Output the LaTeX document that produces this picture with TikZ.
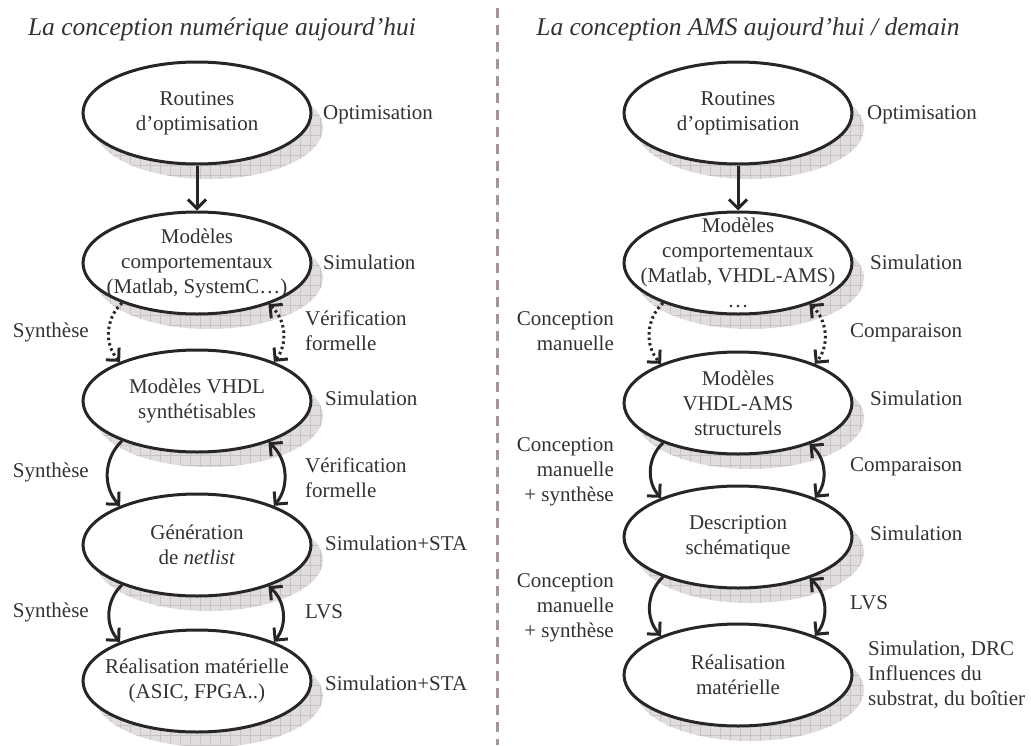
\documentclass[tikz,border=0pt]{standalone}
\usepackage{fontspec}
\setmainfont{Liberation Serif}
\usetikzlibrary{shapes.geometric,arrows.meta,shadows,patterns.meta}
\definecolor{ink}{RGB}{38,38,38}
\definecolor{txtc}{RGB}{50,50,50}
\definecolor{shfill}{RGB}{226,221,221}
\definecolor{shgrid}{RGB}{200,194,194}
\definecolor{divc}{RGB}{165,150,150}
\begin{document}
\begin{tikzpicture}[x=1pt,y=-1pt,
  font=\fontsize{21}{25}\selectfont, text=txtc,
  ell/.style={ellipse, draw=ink, line width=3pt, fill=white,
    minimum width=228pt, minimum height=102pt, inner sep=0pt,
    general shadow={shadow xshift=12pt, shadow yshift=-15pt, fill=shfill},
    general shadow={shadow xshift=12pt, shadow yshift=-15pt,
      pattern={Hatch[angle=0,distance=10pt,line width=0.5pt]}, pattern color=shgrid}},
  inlbl/.style={align=center, inner sep=0pt},
  lblr/.style={anchor=west, align=left, inner sep=0pt},
  lbll/.style={anchor=east, align=right, inner sep=0pt},
  titlec/.style={font=\fontsize{25.5}{30}\selectfont\itshape, inner sep=0pt},
  arr/.style={draw=ink, line width=3pt, -{Straight Barb[length=9pt,width=18pt]}},
  darr/.style={draw=ink, line width=3pt, {Straight Barb[length=9pt,width=18pt]}-{Straight Barb[length=9pt,width=18pt]}},
  dotl/.style={dash pattern=on 2.5pt off 3pt}
]
\useasboundingbox (0,0) rectangle (1031,745);

% titles and divider
\node[titlec] (t1) at (222,29) {La conception numérique aujourd’hui};
\node[titlec] (t2) at (748,29) {La conception AMS aujourd’hui / demain};
\coordinate (dtop) at (497,8);
\coordinate (dbot) at (497,745);
\draw[divc, line width=3pt, dash pattern=on 10pt off 7pt] (dtop) -- (dbot);

% left column
\node[ell, label={[inlbl]center:{Routines\\d’optimisation}}] (l1) at (197,113) {};
\node[ell, label={[inlbl]center:{Modèles\\comportementaux\\(Matlab, SystemC…)}}] (l2) at (197,263) {};
\node[ell, label={[inlbl]center:{Modèles VHDL\\synthétisables}}] (l3) at (197,401) {};
\node[ell, label={[inlbl]center:{Génération\\de \textit{netlist}}}] (l4) at (197,545) {};
\node[ell, label={[inlbl]center:{Réalisation matérielle\\(ASIC, FPGA..)}}] (l5) at (197,681) {};

% right column
\node[ell, label={[inlbl]center:{Routines\\d’optimisation}}] (r1) at (738,113) {};
\node[ell, label={[inlbl]center:{Modèles\\comportementaux\\(Matlab, VHDL-AMS)\\…}}] (r2) at (738,263) {};
\node[ell, label={[inlbl]center:{Modèles\\VHDL-AMS\\structurels}}] (r3) at (738,403) {};
\node[ell, label={[inlbl]center:{Description\\schématique}}] (r4) at (738,537) {};
\node[ell, label={[inlbl]center:{Réalisation\\matérielle}}] (r5) at (738,675) {};

% left side labels
\node[lblr] (lo1) at (323,115) {Optimisation};
\node[lblr] (ls2) at (323,262) {Simulation};
\node[lblr] (ls3) at (325,398) {Simulation};
\node[lblr] (ls4) at (325,543) {Simulation+STA};
\node[lblr] (ls5) at (325,683) {Simulation+STA};
\node[lbll] (lsy1) at (89,332) {Synthèse};
\node[lbll] (lsy2) at (89,472) {Synthèse};
\node[lbll] (lsy3) at (89,612) {Synthèse};
\node[lblr] (lv1) at (305,331) {Vérification\\formelle};
\node[lblr] (lv2) at (305,478) {Vérification\\formelle};
\node[lblr] (lv3) at (305,612) {LVS};

% right side labels
\node[lblr] (ro1) at (867,115) {Optimisation};
\node[lblr] (rs2) at (870,262) {Simulation};
\node[lblr] (rs3) at (870,398) {Simulation};
\node[lblr] (rs4) at (870,533) {Simulation};
\node[lblr] (rs5) at (868,675) {Simulation, DRC\\Influences du\\substrat, du boîtier};
\node[lbll] (rc1) at (614,331) {Conception\\manuelle};
\node[lbll] (rc2) at (614,472) {Conception\\manuelle\\+ synthèse};
\node[lbll] (rc3) at (614,608) {Conception\\manuelle\\+ synthèse};
\node[lblr] (rcp1) at (850,333) {Comparaison};
\node[lblr] (rcp2) at (850,467) {Comparaison};
\node[lblr] (rlv) at (850,603) {LVS};

% left connectors
\draw[arr] (l1) -- (l2);
\draw[arr, dotl] (l2.208) to[bend right=45] (l3.153);
\draw[darr, dotl] (l2.330) to[bend left=45] (l3.27);
\draw[arr] (l3.208) to[bend right=45] (l4.153);
\draw[darr] (l3.330) to[bend left=45] (l4.27);
\draw[arr] (l4.208) to[bend right=45] (l5.153);
\draw[darr] (l4.330) to[bend left=45] (l5.27);

% right connectors
\draw[arr] (r1) -- (r2);
\draw[arr, dotl] (r2.208) to[bend right=45] (r3.153);
\draw[darr, dotl] (r2.330) to[bend left=45] (r3.27);
\draw[arr] (r3.208) to[bend right=45] (r4.153);
\draw[darr] (r3.330) to[bend left=45] (r4.27);
\draw[arr] (r4.208) to[bend right=45] (r5.153);
\draw[darr] (r4.330) to[bend left=45] (r5.27);
\end{tikzpicture}
\end{document}
